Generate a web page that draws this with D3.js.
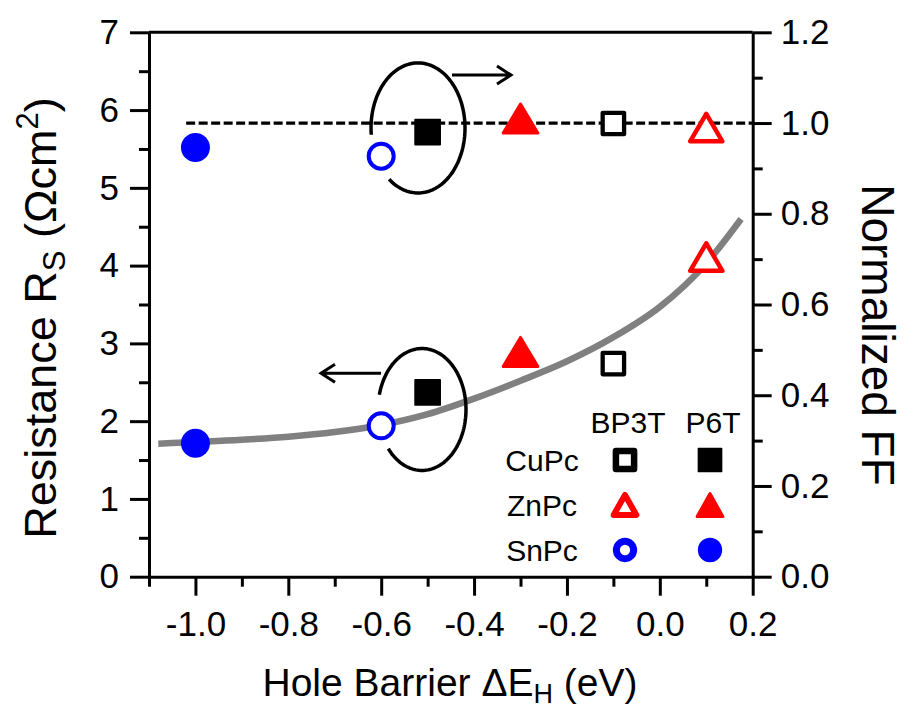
<!DOCTYPE html>
<html>
<head>
<meta charset="utf-8">
<title>Series resistance and normalized FF vs hole barrier</title>
<script src="https://d3js.org/d3.v7.min.js"></script>
<style>
  body { margin: 0; background: #fff; }
  svg { display: block; font-family: "Liberation Sans", Arial, Helvetica, sans-serif; }
</style>
</head>
<body>
<svg id="chart" width="917" height="711"></svg>
<script>
// values
const materials = ["CuPc", "ZnPc", "SnPc"];
const donors = ["BP3T", "P6T"];
const bp3tBarrier = [-0.1, 0.1, -0.6];
const bp3tRs = [2.74, 4.11, 1.94];
const bp3tFF = [0.999, 0.990, 0.927];
const p6tBarrier = [-0.5, -0.3, -1.0];
const p6tRs = [2.37, 2.89, 1.715];
const p6tFF = [0.980, 1.010, 0.946];
// grey guide curve through the Rs points
const fitBarrier = [-1.08, -0.9, -0.8, -0.7, -0.6, -0.5, -0.4, -0.3, -0.2, -0.1, 0.0, 0.1, 0.175];
const fitRs = [1.71, 1.76, 1.80, 1.86, 1.95, 2.09, 2.29, 2.52, 2.77, 3.08, 3.47, 4.03, 4.60];
// dashed FF = 1 reference
const refBarrier = [-1.02, 0.2];
const refFF = [1.0, 1.0];
const xTicks = [-1.0, -0.8, -0.6, -0.4, -0.2, 0.0, 0.2];
const xMinor = [-1.1, -0.9, -0.7, -0.5, -0.3, -0.1, 0.1];
const rsTicks = [0, 1, 2, 3, 4, 5, 6, 7];
const rsMinor = [0.5, 1.5, 2.5, 3.5, 4.5, 5.5, 6.5];
const ffTicks = [0.0, 0.2, 0.4, 0.6, 0.8, 1.0, 1.2];
const ffMinor = [0.1, 0.3, 0.5, 0.7, 0.9, 1.1];

const colors = { CuPc: "#000000", ZnPc: "#ff0000", SnPc: "#0000ff" };
const shapes = { CuPc: "square", ZnPc: "triangle", SnPc: "circle" };

const svg = d3.select("#chart");
const x = d3.scaleLinear().domain([-1.1, 0.2]).range([149, 752.7]);
const yL = d3.scaleLinear().domain([0, 7]).range([576.7, 32.3]);
const yR = d3.scaleLinear().domain([0, 1.2]).range([576.7, 32.3]);

svg.append("rect").attr("width", 917).attr("height", 711).attr("fill", "#fff");

function styleAxis(g, fs) {
    g.select(".domain").attr("stroke-width", 3).attr("stroke", "#000");
    g.selectAll(".tick line").attr("stroke-width", 3).attr("stroke", "#000");
    g.selectAll(".tick text").attr("font-size", fs).attr("fill", "#000").attr("font-family", null);
}
const fmt = d => d.toFixed(1);

// bottom axis
svg.append("g").attr("transform", `translate(0,${yL(0)})`)
    .call(d3.axisBottom(x).tickValues(xTicks).tickSize(19).tickPadding(15).tickSizeOuter(0).tickFormat(fmt))
    .call(g => styleAxis(g, 35));
svg.append("g").attr("transform", `translate(0,${yL(0)})`)
    .call(d3.axisBottom(x).tickValues(xMinor).tickSize(10).tickFormat(""))
    .call(g => { g.select(".domain").remove(); styleAxis(g, 35); });

// left axis
svg.append("g").attr("transform", `translate(${x(-1.1)},0)`)
    .call(d3.axisLeft(yL).tickValues(rsTicks).tickSize(19).tickPadding(11).tickSizeOuter(0).tickFormat(d3.format("d")))
    .call(g => styleAxis(g, 35));
svg.append("g").attr("transform", `translate(${x(-1.1)},0)`)
    .call(d3.axisLeft(yL).tickValues(rsMinor).tickSize(10).tickFormat(""))
    .call(g => { g.select(".domain").remove(); styleAxis(g, 35); });

// right axis
svg.append("g").attr("transform", `translate(${x(0.2)},0)`)
    .call(d3.axisRight(yR).tickValues(ffTicks).tickSize(19).tickPadding(9).tickSizeOuter(0).tickFormat(fmt))
    .call(g => styleAxis(g, 35));
svg.append("g").attr("transform", `translate(${x(0.2)},0)`)
    .call(d3.axisRight(yR).tickValues(ffMinor).tickSize(10).tickFormat(""))
    .call(g => { g.select(".domain").remove(); styleAxis(g, 35); });

// top frame line
svg.append("line")
    .attr("x1", x(-1.1)).attr("x2", x(0.2))
    .attr("y1", yL(7)).attr("y2", yL(7))
    .attr("stroke", "#000").attr("stroke-width", 3);

// grey curve
const fitPts = fitBarrier.map((b, i) => [b, fitRs[i]]);
svg.append("path")
    .attr("d", d3.line().x(d => x(d[0])).y(d => yL(d[1])).curve(d3.curveMonotoneX)(fitPts))
    .attr("fill", "none").attr("stroke", "#808080").attr("stroke-width", 6.5);

// dashed reference line
svg.append("path")
    .attr("d", d3.line().x(d => x(d[0])).y(d => yR(d[1]))(refBarrier.map((b, i) => [b, refFF[i]])))
    .attr("fill", "none").attr("stroke", "#000").attr("stroke-width", 3.2)
    .attr("stroke-dasharray", "9,3.5");

// ellipses marking which axis each group belongs to
function openEllipse(cx, cy, rx, ry, a0, a1) {
    const pts = d3.range(a0, a1 + 0.5, 2).map(a => {
        const t = a * Math.PI / 180;
        return [x(cx) + (x(cx + rx) - x(cx)) * Math.cos(t), yL(cy) + (yL(cy - ry) - yL(cy)) * Math.sin(t)];
    });
    svg.append("path").attr("d", d3.line()(pts))
        .attr("fill", "none").attr("stroke", "#000").attr("stroke-width", 3.5);
}
openEllipse(-0.5207, 5.77, 0.1012, 0.836, 174, 489);
openEllipse(-0.5121, 2.15, 0.0947, 0.784, 194, 500);

function arrow(b0, b1, rs) {
    const x0 = x(b0), x1 = x(b1), y0 = yL(rs);
    const dir = Math.sign(x1 - x0);
    svg.append("path")
        .attr("d", `M${x0},${y0}H${x1}M${x1 - dir * 14},${y0 - 9}L${x1},${y0}L${x1 - dir * 14},${y0 + 9}`)
        .attr("fill", "none").attr("stroke", "#000").attr("stroke-width", 3);
}
arrow(-0.4475, -0.3205, 6.45);
arrow(-0.6004, -0.7296, 2.615);

// markers
function triPath(w, h) { return `M0,${-h / 2}L${w / 2},${h / 2}L${-w / 2},${h / 2}Z`; }
function sqPath(s) { return `M${-s / 2},${-s / 2}h${s}v${s}h${-s}Z`; }

function marker(g, shape, filled, color, big) {
    if (shape === "circle") {
        g.append("circle")
            .attr("r", filled ? (big ? 14.5 : 12.2) : (big ? 12.5 : 8.65))
            .attr("fill", filled ? color : "#fff")
            .attr("stroke", filled ? "none" : color)
            .attr("stroke-width", big ? 4 : 7);
    } else if (shape === "square") {
        g.append("path")
            .attr("d", filled ? sqPath(big ? 25 : 23) : sqPath(big ? 21.4 : 18.2))
            .attr("fill", filled ? color : "#fff")
            .attr("stroke", color)
            .attr("stroke-linejoin", "round")
            .attr("stroke-width", filled ? 1.7 : (big ? 4.3 : 6.5));
    } else {
        g.append("path")
            .attr("d", filled ? (big ? triPath(34.7, 29) : triPath(25.7, 23)) : (big ? triPath(32.2, 27.5) : triPath(22.7, 20)))
            .attr("fill", filled ? color : "#fff")
            .attr("stroke", color)
            .attr("stroke-linejoin", "round")
            .attr("stroke-width", filled ? 3 : (big ? 4.5 : 6));
    }
}

function plotSet(barrier, vals, scale, filled) {
    materials.forEach((m, i) => {
        const g = svg.append("g").attr("transform", `translate(${x(barrier[i])},${scale(vals[i])})`);
        marker(g, shapes[m], filled, colors[m], true);
    });
}
plotSet(bp3tBarrier, bp3tRs, yL, false);
plotSet(p6tBarrier, p6tRs, yL, true);
plotSet(bp3tBarrier, bp3tFF, yR, false);
plotSet(p6tBarrier, p6tFF, yR, true);

// legend
const legCols = [628, 713];
const legRows = [460, 505, 550];
const leg = svg.append("g").attr("font-size", 30);
donors.forEach((d, j) => {
    leg.append("text").attr("x", legCols[j]).attr("y", 432.7).attr("text-anchor", "middle").text(d);
});
materials.forEach((m, i) => {
    leg.append("text").attr("x", 542).attr("y", legRows[i] + 10.5).attr("text-anchor", "middle").text(m);
    donors.forEach((d, j) => {
        const g = leg.append("g").attr("transform", `translate(${legCols[j] - 3},${legRows[i]})`);
        marker(g, shapes[m], j === 1, colors[m], false);
    });
});

// axis titles
const xt = svg.append("text").attr("transform", "translate(450,696)")
    .attr("text-anchor", "middle").attr("font-size", 39);
xt.append("tspan").text("Hole Barrier \u0394E");
xt.append("tspan").attr("font-size", 27).attr("dy", 7).text("H");
xt.append("tspan").attr("dy", -7).text(" (eV)");

const yt = svg.append("text").attr("transform", "translate(56,318) rotate(-90)")
    .attr("text-anchor", "middle").attr("font-size", 45);
yt.append("tspan").text("Resistance R");
yt.append("tspan").attr("font-size", 31).attr("dy", 9).text("S");
yt.append("tspan").attr("dy", -9).text(" (\u03A9cm");
yt.append("tspan").attr("font-size", 31).attr("dy", -18).text("2");
yt.append("tspan").attr("dy", 18).text(")");

svg.append("text").attr("transform", "translate(862,335) rotate(90)")
    .attr("text-anchor", "middle").attr("font-size", 46)
    .text("Normalized FF");
</script>
</body>
</html>
